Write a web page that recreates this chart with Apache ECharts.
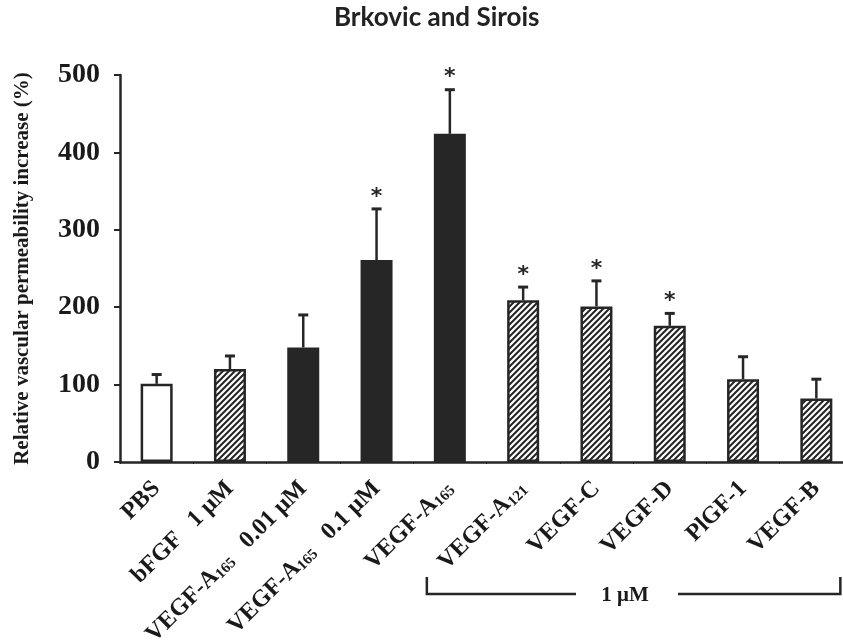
<!DOCTYPE html>
<html>
<head>
<meta charset="utf-8">
<script src="https://cdn.jsdelivr.net/npm/echarts@6/dist/echarts.min.js"></script>
<style>
  html, body { margin: 0; padding: 0; background: #fff; }
  #chart { width: 843px; height: 642px; }
</style>
</head>
<body>
<div id="chart"></div>
<script>
// Treatments (rich-text labels; {s|...} marks subscripts)
const categories = [
  'PBS',
  'bFGF   1 μM',
  'VEGF-A{s|165}   0.01 μM',
  'VEGF-A{s|165}   0.1 μM',
  'VEGF-A{s|165}',
  'VEGF-A{s|121}',
  'VEGF-C',
  'VEGF-D',
  'PlGF-1',
  'VEGF-B'
];
// Treatment group of each bar
const groups = ['control', 'other', 'dose', 'dose', 'dose', 'other', 'other', 'other', 'other', 'other'];
// Mean relative permeability increase (%)
const means = [101, 120, 148, 261, 424, 209, 201, 176, 107, 82];
// Mean + SEM (top of error bar)
const upper = [113, 137, 190, 327, 481, 226, 234, 192, 136, 107];
// Significant difference vs PBS
const significant = [false, false, false, true, true, true, true, true, false, false];
// Y-axis ticks
const yTicks = { min: 0, max: 500, interval: 100 };

const INK = '#262626';

// Diagonal hatch tile
function hatchPattern() {
  const s = 6;
  const c = document.createElement('canvas');
  c.width = s; c.height = s;
  const g = c.getContext('2d');
  g.fillStyle = '#fff';
  g.fillRect(0, 0, s, s);
  g.strokeStyle = INK;
  g.lineWidth = 2.1;
  g.beginPath();
  g.moveTo(0, s); g.lineTo(s, 0);
  g.moveTo(-s / 2, s / 2); g.lineTo(s / 2, -s / 2);
  g.moveTo(s / 2, s + s / 2); g.lineTo(s + s / 2, s / 2);
  g.stroke();
  return { image: c, repeat: 'repeat' };
}
const hatch = hatchPattern();

const groupStyle = {
  control: { color: '#fff', borderColor: INK, borderWidth: 2.5 },
  other: { color: hatch, borderColor: INK, borderWidth: 2.5 },
  dose: { color: INK, borderColor: INK, borderWidth: 0 }
};

const chart = echarts.init(document.getElementById('chart'), null, { renderer: 'canvas' });

const serif = '"Liberation Serif", "Times New Roman", serif';

chart.setOption({
  animation: false,
  backgroundColor: '#fff',
  title: {
    text: 'Brkovic and Sirois',
    left: 329,
    top: 0,
    textStyle: { fontFamily: 'Lato, sans-serif', fontWeight: 'bold', fontSize: 26, color: '#222' }
  },
  grid: { left: 120, top: 75, width: 733, height: 387, containLabel: false, outerBoundsMode: 'none' },
  xAxis: {
    type: 'category',
    data: categories,
    axisLine: { lineStyle: { color: INK, width: 2.5 } },
    axisTick: { show: true, length: 2, lineStyle: { color: INK, width: 1 } },
    axisLabel: {
      interval: 0,
      rotate: 45,
      margin: 23,
      color: '#1a1a1a',
      fontFamily: serif,
      fontWeight: 'bold',
      fontSize: 24,
      rich: {
        s: { fontFamily: serif, fontWeight: 'bold', fontSize: 15, verticalAlign: 'bottom', padding: [8, 0, 0, 0], color: '#1a1a1a' }
      }
    }
  },
  yAxis: {
    type: 'value',
    min: yTicks.min,
    max: yTicks.max,
    interval: yTicks.interval,
    name: 'Relative vascular permeability increase (%)',
    nameLocation: 'middle',
    nameGap: 87,
    nameTextStyle: { fontFamily: serif, fontWeight: 'bold', fontSize: 21, color: '#1a1a1a' },
    axisLine: { show: true, lineStyle: { color: INK, width: 2.5 } },
    axisTick: { show: true, inside: false, length: 6, lineStyle: { color: INK, width: 2 } },
    splitLine: { show: false },
    axisLabel: { margin: 20, color: '#1a1a1a', fontFamily: serif, fontWeight: 'bold', fontSize: 28 }
  },
  series: [
    {
      type: 'bar',
      barWidth: 32,
      data: means.map((v, i) => ({ value: v, itemStyle: groupStyle[groups[i]] })),
      z: 2
    },
    {
      type: 'custom',
      z: 3,
      data: means.map((v, i) => [i, v, upper[i], significant[i] ? 1 : 0]),
      renderItem: function (params, api) {
        const base = api.coord([api.value(0), api.value(1)]);
        const top = api.coord([api.value(0), api.value(2)]);
        const x = base[0];
        const children = [
          { type: 'line', shape: { x1: x, y1: base[1], x2: x, y2: top[1] }, style: { stroke: INK, lineWidth: 2.5 } },
          { type: 'line', shape: { x1: x - 5, y1: top[1], x2: x + 5, y2: top[1] }, style: { stroke: INK, lineWidth: 3 } }
        ];
        if (api.value(3)) {
          children.push({
            type: 'text',
            style: {
              text: '*', x: x, y: top[1] - 12,
              align: 'center', verticalAlign: 'middle',
              font: 'bold 22px "DejaVu Sans", sans-serif', fill: INK
            }
          });
        }
        return { type: 'group', children: children };
      }
    }
  ]
});

// Bracket grouping the 1 μM treatments
const left = chart.convertToPixel({ xAxisIndex: 0 }, 4) - 23;
const right = chart.convertToPixel({ xAxisIndex: 0 }, 9) + 24;
const yTop = 577, yLine = 594;
const midX = 625;
chart.setOption({
  graphic: [
    { type: 'polyline', shape: { points: [[left, yTop], [left, yLine], [576, yLine]] }, style: { stroke: INK, lineWidth: 2.5, fill: null } },
    { type: 'polyline', shape: { points: [[678, yLine], [right, yLine], [right, yTop]] }, style: { stroke: INK, lineWidth: 2.5, fill: null } },
    { type: 'text', x: midX, y: yLine + 2, style: { text: '1 μM', align: 'center', verticalAlign: 'middle', font: 'bold 21px "Liberation Serif", serif', fill: '#1a1a1a' } }
  ]
});
</script>
</body>
</html>
